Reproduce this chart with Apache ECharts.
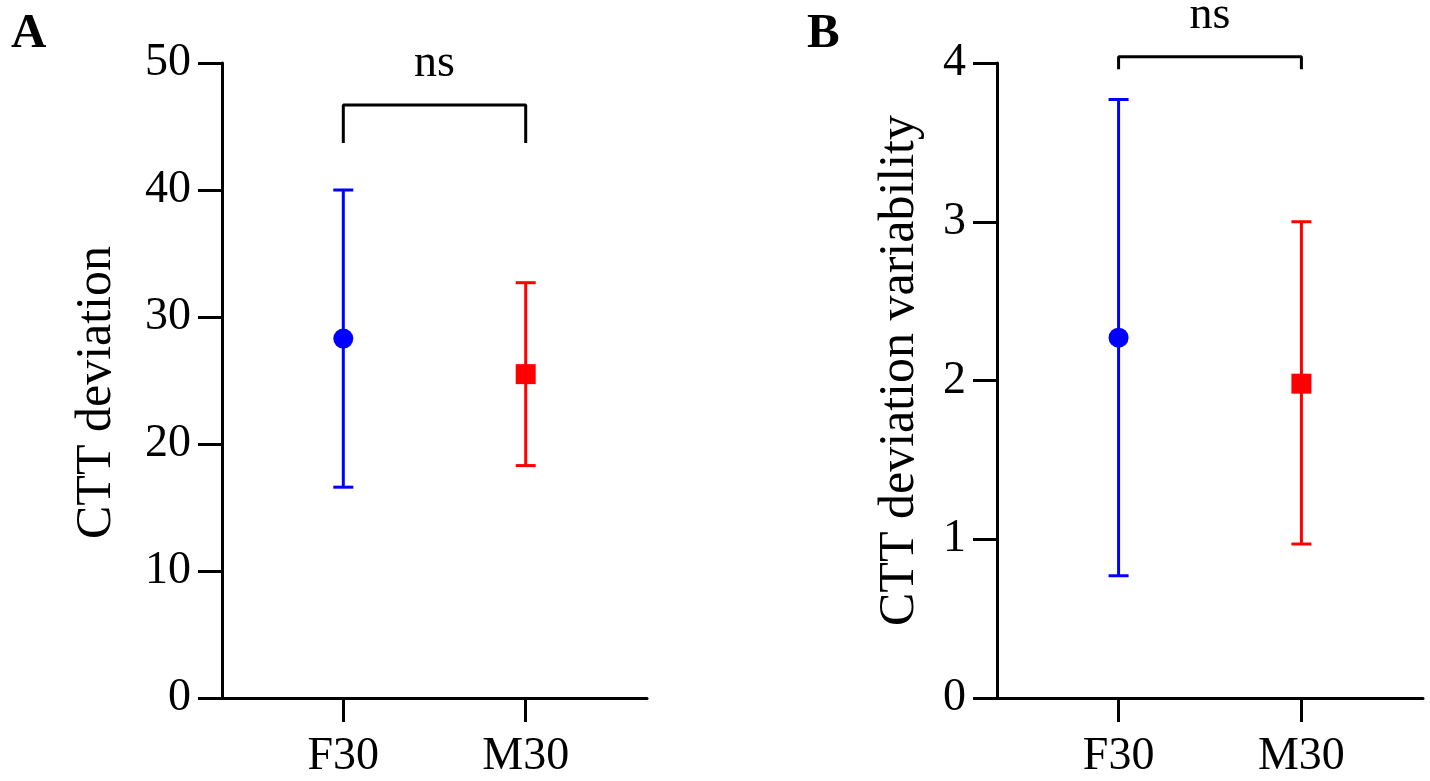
<!DOCTYPE html>
<html>
<head>
<meta charset="utf-8">
<script src="https://cdn.jsdelivr.net/npm/echarts@6/dist/echarts.min.js"></script>
<style>
html,body{margin:0;padding:0;background:#fff;}
#chart{width:1430px;height:781px;}
</style>
</head>
<body>
<div id="chart"></div>
<script>
// ---- data ----
const categories = ['F30', 'M30'];
const catColors = ['#0000ff', '#ff0000'];
const catSymbols = ['circle', 'rect'];

// Panel A: CTT deviation
const devMean = [28.3, 25.5];
const devLow  = [16.6, 18.3];
const devHigh = [40.0, 32.7];
const devBracket = [43.7, 46.7];   // [tip, bar] of significance bracket
const devYTicks = [0, 10, 20, 30, 40, 50];

// Panel B: CTT deviation variability
const varMean = [2.27, 1.98];
const varLow  = [0.77, 0.97];
const varHigh = [3.77, 3.00];
const varBracket = [3.96, 4.04];
const varYTicks = [0, 1, 2, 3, 4];

const sigText = 'ns';
const panelLetters = ['A', 'B'];
const yTitles = ['CTT deviation', 'CTT deviation variability'];

// ---- build ----
const FONT = '"Liberation Serif", "Times New Roman", serif';
const FS = 46;
const catPos = categories.map((c, i) => i + 1);

const chart = echarts.init(document.getElementById('chart'), null, {renderer: 'canvas'});

function xAxisFor(gi) {
  return {
    gridIndex: gi, type: 'value', min: 0.335, max: 2.665,
    axisLine: {show: true, lineStyle: {color: '#000', width: 3}},
    axisTick: {show: true, length: 24, lineStyle: {color: '#000', width: 3}, customValues: catPos},
    axisLabel: {show: true, color: '#000', fontFamily: FONT, fontSize: FS, margin: 36,
      customValues: catPos,
      formatter: v => categories[Math.round(v) - 1] || ''},
    splitLine: {show: false}
  };
}
function yAxisFor(gi, ticks, title, gap, pad) {
  return {
    gridIndex: gi, type: 'value', min: ticks[0], max: ticks[ticks.length - 1],
    interval: ticks[1] - ticks[0],
    name: title, nameLocation: 'middle', nameGap: gap, nameRotate: 90,
    nameTextStyle: {color: '#000', fontFamily: FONT, fontSize: 50, padding: pad},
    axisLine: {show: true, lineStyle: {color: '#000', width: 3}},
    axisTick: {show: true, length: 24, inside: false, lineStyle: {color: '#000', width: 3}},
    axisLabel: {color: '#000', fontFamily: FONT, fontSize: FS, margin: 31},
    splitLine: {show: false}
  };
}

function errorSeries(gi, low, high) {
  return {
    type: 'custom', xAxisIndex: gi, yAxisIndex: gi, silent: true, clip: false,
    data: catPos.map((x, i) => [x, low[i], high[i], i]),
    renderItem: function (params, api) {
      const x = api.value(0);
      const lo = api.coord([x, api.value(1)]);
      const hi = api.coord([x, api.value(2)]);
      const col = catColors[api.value(3)];
      const hw = 10;
      const st = {stroke: col, lineWidth: 3};
      return {
        type: 'group', children: [
          {type: 'line', shape: {x1: lo[0], y1: lo[1], x2: hi[0], y2: hi[1]}, style: st},
          {type: 'line', shape: {x1: lo[0] - hw, y1: lo[1], x2: lo[0] + hw, y2: lo[1]}, style: st},
          {type: 'line', shape: {x1: hi[0] - hw, y1: hi[1], x2: hi[0] + hw, y2: hi[1]}, style: st}
        ]
      };
    }
  };
}
function meanSeries(gi, mean) {
  return {
    type: 'scatter', xAxisIndex: gi, yAxisIndex: gi, silent: true, z: 5,
    itemStyle: {opacity: 1},
    data: catPos.map((x, i) => ({
      value: [x, mean[i]], symbol: catSymbols[i], symbolSize: 20,
      itemStyle: {color: catColors[i], opacity: 1}
    }))
  };
}
function bracketSeries(gi, br) {
  return {
    type: 'line', xAxisIndex: gi, yAxisIndex: gi, silent: true, clip: false,
    symbol: 'none', lineStyle: {color: '#000', width: 3},
    data: [[catPos[0], br[0]], [catPos[0], br[1]], [catPos[1], br[1]], [catPos[1], br[0]]]
  };
}
function sigSeries(gi, br) {
  return {
    type: 'scatter', xAxisIndex: gi, yAxisIndex: gi, silent: true, clip: false,
    symbolSize: 0, itemStyle: {opacity: 1},
    data: [[(catPos[0] + catPos[1]) / 2, br[1]]],
    label: {show: true, position: 'top', distance: 18, formatter: sigText,
      color: '#000', opacity: 1, fontFamily: FONT, fontSize: FS}
  };
}

const option = {
  backgroundColor: '#fff',
  animation: false,
  title: [
    {text: panelLetters[0], left: 6, top: 5, textStyle: {fontFamily: FONT, fontSize: 49, fontWeight: 'bold', color: '#000'}},
    {text: panelLetters[1], left: 802, top: 5, textStyle: {fontFamily: FONT, fontSize: 49, fontWeight: 'bold', color: '#000'}}
  ],
  grid: [
    {left: 222, right: 783, top: 63, bottom: 83, containLabel: false},
    {left: 997, right: 7, top: 63, bottom: 83, containLabel: false}
  ],
  xAxis: [xAxisFor(0), xAxisFor(1)],
  yAxis: [
    yAxisFor(0, devYTicks, yTitles[0], 100, [0, 24, 0, 0]),
    yAxisFor(1, varYTicks, yTitles[1], 72, [0, 0, 0, 20])
  ],
  series: [
    errorSeries(0, devLow, devHigh), meanSeries(0, devMean), bracketSeries(0, devBracket), sigSeries(0, devBracket),
    errorSeries(1, varLow, varHigh), meanSeries(1, varMean), bracketSeries(1, varBracket), sigSeries(1, varBracket)
  ]
};
chart.setOption(option);
</script>
</body>
</html>
